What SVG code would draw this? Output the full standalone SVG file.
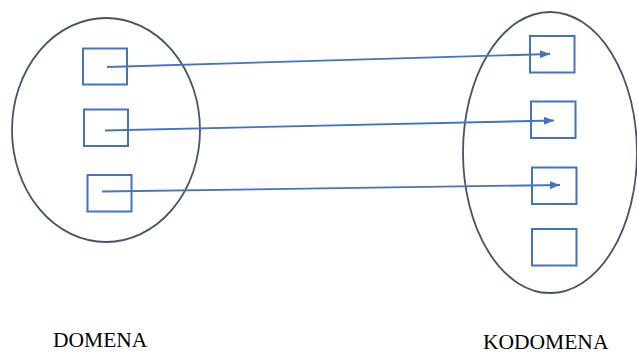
<svg xmlns="http://www.w3.org/2000/svg" width="637" height="356" viewBox="0 0 637 356">
<style>
.set{fill:none;stroke:#44546A;stroke-width:1.8}
.box{fill:#fff;stroke:#4472C4;stroke-width:2}
.edge{fill:none;stroke:#4472C4;stroke-width:1.8}
.lbl{font-family:"Liberation Serif","Times New Roman",serif;font-size:21.5px;fill:#000}
</style>
<defs>
<marker id="ah" markerWidth="10" markerHeight="8" refX="10" refY="4" orient="auto" markerUnits="userSpaceOnUse">
<path d="M0,0 L10,4 L0,8 Z" fill="#4472C4"/>
</marker>
</defs>
<g id="domena">
<ellipse class="set" cx="106" cy="130" rx="94" ry="112"/>
<text class="lbl" x="53" y="347">DOMENA</text>
</g>
<g id="kodomena">
<ellipse class="set" cx="550" cy="152.5" rx="87" ry="140.5"/>
<text class="lbl" x="483" y="349">KODOMENA</text>
</g>
<g id="d1"><rect class="box" x="83" y="48.5" width="44" height="36"/></g>
<g id="d2"><rect class="box" x="84" y="109.5" width="44" height="36.5"/></g>
<g id="d3"><rect class="box" x="87.5" y="175" width="44" height="36.5"/></g>
<g id="k1"><rect class="box" x="530" y="36" width="44.5" height="36.5"/></g>
<g id="k2"><rect class="box" x="531" y="101.5" width="44.5" height="36.5"/></g>
<g id="k3"><rect class="box" x="532" y="167.5" width="44.5" height="36.5"/></g>
<g id="k4"><rect class="box" x="532" y="229" width="44.5" height="36.5"/></g>
<g id="connectors">
<line class="edge" x1="107" y1="67" x2="550" y2="54" marker-end="url(#ah)"/>
<line class="edge" x1="105" y1="130.5" x2="554" y2="120.5" marker-end="url(#ah)"/>
<line class="edge" x1="102" y1="191.5" x2="560" y2="185" marker-end="url(#ah)"/>
</g>
</svg>
